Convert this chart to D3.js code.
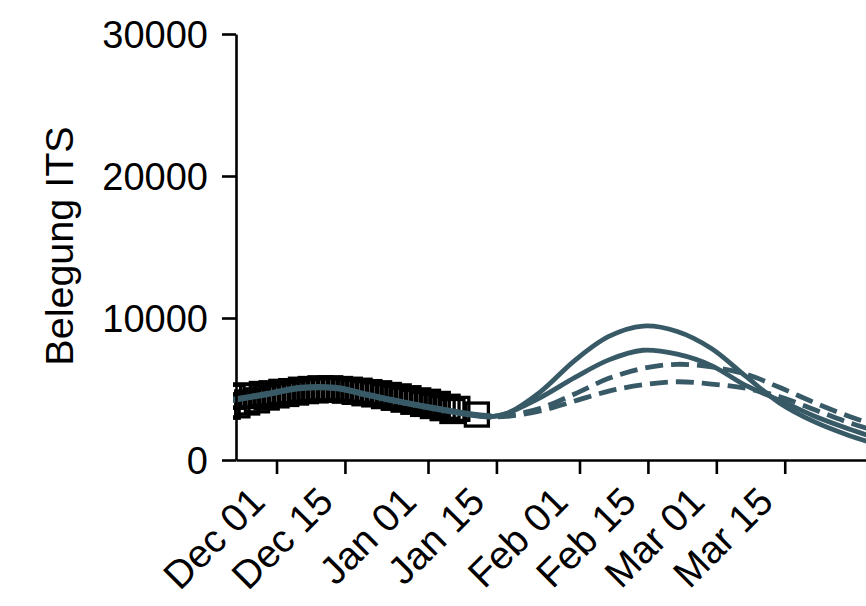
<!DOCTYPE html>
<html><head><meta charset="utf-8">
<script src="https://cdn.jsdelivr.net/npm/d3@7"></script>
<style>html,body{margin:0;padding:0;background:#fff;} svg{display:block;}</style>
</head><body>
<svg id="chart" width="866" height="606"></svg>
<script>
// ---------- data ----------
const obsDates = ["2020-11-21","2020-11-22","2020-11-23","2020-11-24","2020-11-25","2020-11-26","2020-11-27","2020-11-28","2020-11-29","2020-11-30",
  "2020-12-01","2020-12-02","2020-12-03","2020-12-04","2020-12-05","2020-12-06","2020-12-07","2020-12-08","2020-12-09","2020-12-10",
  "2020-12-11","2020-12-12","2020-12-13","2020-12-14","2020-12-15","2020-12-16","2020-12-17","2020-12-18","2020-12-19","2020-12-20",
  "2020-12-21","2020-12-22","2020-12-23","2020-12-24","2020-12-25","2020-12-26","2020-12-27","2020-12-28","2020-12-29","2020-12-30",
  "2020-12-31","2021-01-01","2021-01-02","2021-01-03","2021-01-04","2021-01-05","2021-01-06","2021-01-07","2021-01-11"];
const obsValues = [3750,4450,3850,4550,4050,4500,4200,4650,4400,4700,
  4550,4800,4650,4850,4750,4950,4850,5000,4900,5050,
  4950,5050,4950,5000,4880,4950,4800,4880,4700,4780,
  4620,4700,4500,4580,4380,4480,4250,4350,4100,4200,
  3950,4100,3800,3950,3650,3750,3450,3600,3200];

const modelDates = ["2020-11-22","2020-11-29","2020-12-06","2020-12-13","2020-12-20","2020-12-27","2021-01-03","2021-01-10",
  "2021-01-14","2021-01-17","2021-01-24","2021-01-31","2021-02-07","2021-02-14","2021-02-21","2021-02-28",
  "2021-03-07","2021-03-14","2021-03-21","2021-03-28","2021-04-04"];
const fitValues = [4230,4640,5080,5080,4560,4050,3600,3200,3060];
// scenarios start at 2021-01-10 (modelDates index 7)
const scenarioSolidHigh = [3200,3060,3250,4800,7000,8700,9430,9050,7850,5900,4000,2700,1750,1000];
const scenarioSolidLow  = [3200,3060,3280,4400,5800,7050,7730,7450,6650,5250,4200,3100,2200,1400];
const scenarioDashHigh  = [3200,3060,3120,3650,4650,5750,6450,6740,6550,6050,5100,4050,3100,2300];
const scenarioDashLow   = [3200,3060,3070,3450,4150,4850,5300,5510,5350,5050,4450,3550,2650,1900];

const xTickDates = ["2020-12-01","2020-12-15","2021-01-01","2021-01-15","2021-02-01","2021-02-15","2021-03-01","2021-03-15"];
const xTickLabels = ["Dec 01","Dec 15","Jan 01","Jan 15","Feb 01","Feb 15","Mar 01","Mar 15"];
const yTicks = [0,10000,20000,30000];
const yLabel = "Belegung ITS";

// ---------- drawing ----------
const parse = d3.timeParse("%Y-%m-%d");
const svg = d3.select("#chart");
const lineColor = "#385a67";
const font = "'Liberation Sans', Arial, sans-serif";

const x = d3.scaleTime()
  .domain([new Date(2020,10,22,17), new Date(2021,2,31,20)])
  .range([236, 867]);
const y = d3.scaleLinear().domain([0,30000]).range([460,34]);

svg.append("rect").attr("width",866).attr("height",606).attr("fill","#fff");

svg.append("defs").append("clipPath").attr("id","plotclip")
  .append("rect").attr("x",233).attr("y",0).attr("width",866-233).attr("height",462);

const plot = svg.append("g").attr("clip-path","url(#plotclip)");

// observations: hollow square markers
const sq = 23;
plot.append("g").selectAll("rect").data(obsDates.map((d,i)=>({d:parse(d),v:obsValues[i]})))
  .join("rect")
  .attr("x", p => x(p.d) - sq/2)
  .attr("y", p => y(p.v) - sq/2)
  .attr("width", sq).attr("height", sq)
  .attr("fill","none").attr("stroke","#000").attr("stroke-width",3.3);

const line = d3.line().x(p=>x(p.d)).y(p=>y(p.v)).curve(d3.curveCatmullRom.alpha(0.5));

const scenDates = modelDates.slice(7).map(parse);
const scenarios = [
  {vals: scenarioSolidHigh, dash: null},
  {vals: scenarioSolidLow, dash: null},
  {vals: scenarioDashHigh, dash: "18,8"},
  {vals: scenarioDashLow, dash: "18,8"}
];
scenarios.forEach(s => {
  plot.append("path")
    .datum(scenDates.map((d,i)=>({d, v:s.vals[i]})))
    .attr("d", line)
    .attr("fill","none").attr("stroke",lineColor).attr("stroke-width",4.8)
    .attr("stroke-dasharray", s.dash);
});

plot.append("path")
  .datum(modelDates.slice(0,fitValues.length).map((d,i)=>({d:parse(d), v:fitValues[i]})))
  .attr("d", line)
  .attr("fill","none").attr("stroke",lineColor).attr("stroke-width",6.2);

// axes
const yAxis = svg.append("g").attr("transform","translate(236,0)")
  .call(d3.axisLeft(y).tickValues(yTicks).tickFormat(d3.format("d")).tickSize(14).tickSizeOuter(0).tickPadding(14));
const xAxis = svg.append("g").attr("transform","translate(0,460)")
  .call(d3.axisBottom(x).tickValues(xTickDates.map(parse)).tickFormat((d,i)=>xTickLabels[i]).tickSize(14).tickSizeOuter(0));

[yAxis, xAxis].forEach(a => {
  a.select(".domain").attr("stroke","#000").attr("stroke-width",2.6);
  a.selectAll(".tick line").attr("stroke","#000").attr("stroke-width",2.6);
  a.selectAll("text").attr("font-family",font).attr("font-size",38).attr("fill","#000");
});
yAxis.selectAll(".tick text").attr("dy","0.35em");
xAxis.selectAll(".tick text")
  .attr("x",0).attr("y",0).attr("dy",0)
  .attr("text-anchor","end")
  .attr("font-size",39)
  .attr("transform","translate(-10,44) rotate(-45)");

svg.append("text")
  .attr("transform","translate(73,246) rotate(-90)")
  .attr("text-anchor","middle")
  .attr("font-family",font).attr("font-size",39.5)
  .attr("fill","#000")
  .text(yLabel);
</script>
</body></html>
